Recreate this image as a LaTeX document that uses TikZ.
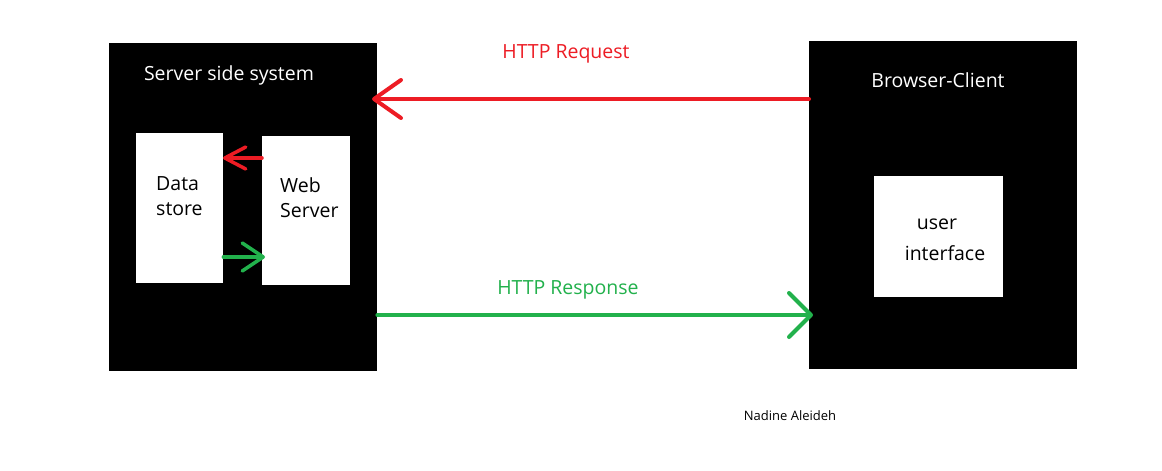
\documentclass[tikz,border=0pt]{standalone}
\usepackage{fontspec}
\setmainfont{Open Sans}
\usetikzlibrary{arrows.meta}
\definecolor{pred}{HTML}{ED1C24}
\definecolor{pgreen}{HTML}{22B14C}
\tikzset{
  blackbox/.style={fill=black, draw=none, inner sep=0pt, anchor=north west},
  whitebox/.style={fill=white, draw=none, inner sep=0pt, anchor=north west},
  wlabel/.style={text=white, font=\fontsize{19.5}{25}\selectfont, inner sep=0pt},
  blabel/.style={text=black, font=\fontsize{19.5}{25}\selectfont, inner sep=0pt, align=left},
  bigred/.style={draw=pred, line width=4pt, line cap=round, -{Straight Barb[length=27pt,width=38pt,line cap=round,line join=round]}},
  biggreen/.style={draw=pgreen, line width=4pt, line cap=round, -{Straight Barb[length=22pt,width=44pt,line cap=round,line join=round]}},
  smallred/.style={draw=pred, line width=3.5pt, line cap=round, -{Straight Barb[length=21pt,width=22pt,line cap=round,line join=round]}},
  smallgreen/.style={draw=pgreen, line width=3.5pt, line cap=round, -{Straight Barb[length=21pt,width=28pt,line cap=round,line join=round]}},
}
\begin{document}
\begin{tikzpicture}[x=1pt,y=-1pt]
\useasboundingbox[fill=white] (0,0) rectangle (1162,471);
% boxes
\node[blackbox, minimum width=268pt, minimum height=328pt] (server) at (109,43) {};
\node[blackbox, minimum width=268pt, minimum height=328pt] (client) at (809,41) {};
\node[whitebox, minimum width=87pt, minimum height=150pt] (data) at (136,133) {};
\node[whitebox, minimum width=88pt, minimum height=149pt] (web) at (262,136) {};
\node[whitebox, minimum width=129pt, minimum height=121pt] (ui) at (874,176) {};
% labels
\node[wlabel] (servertitle) at (229,75) {Server side system};
\node[wlabel] (clienttitle) at (938,80) {Browser-Client};
\node[blabel, anchor=west] (datalabel) at (156,196) {Data\\store};
\node[blabel, anchor=west] (weblabel) at (280,198) {Web\\Server};
\node[blabel, anchor=center] (uilabel1) at (937,224) {user};
\node[blabel, anchor=center] (uilabel2) at (945,253) {interface};
\node[text=pred, font=\fontsize{19.5}{25}\selectfont, inner sep=0pt] (reqlabel) at (566,54) {HTTP Request};
\node[text=pgreen, font=\fontsize{19.5}{25}\selectfont, inner sep=0pt] (resplabel) at (568,290) {HTTP Response};
\node[font=\fontsize{13}{15}\selectfont, inner sep=0pt] (author) at (790,416) {Nadine Aleideh};
% connectors
\coordinate (reqs) at (client.west |- 0,99);
\coordinate (reqe) at (372,99);
\draw[bigred] (reqs) -- (reqe);
\coordinate (resps) at (server.east |- 0,315);
\coordinate (respe) at (813,315);
\draw[biggreen] (resps) -- (respe);
\coordinate (sr1) at (web.west |- 0,158);
\coordinate (sr2) at (223,158);
\draw[smallred] (sr1) -- (sr2);
\coordinate (sg1) at (data.east |- 0,257);
\coordinate (sg2) at (265,257);
\draw[smallgreen] (sg1) -- (sg2);
\end{tikzpicture}
\end{document}
